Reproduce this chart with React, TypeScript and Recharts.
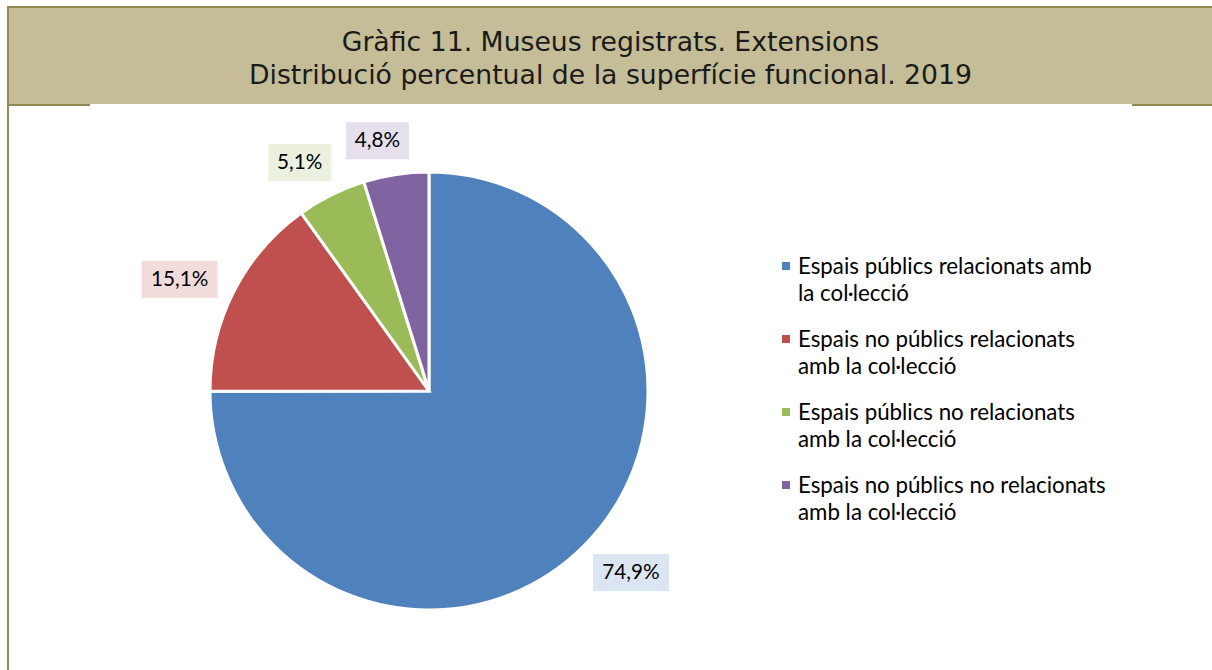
import React from 'react';
import { PieChart, Pie, Cell, Legend } from 'recharts';

const categories = [
  'Espais públics relacionats amb la col·lecció',
  'Espais no públics relacionats amb la col·lecció',
  'Espais públics no relacionats amb la col·lecció',
  'Espais no públics no relacionats amb la col·lecció',
];
// how the legend breaks each name in the original
const legendLines = [
  ['Espais públics relacionats amb', 'la col·lecció'],
  ['Espais no públics relacionats', 'amb la col·lecció'],
  ['Espais públics no relacionats', 'amb la col·lecció'],
  ['Espais no públics no relacionats', 'amb la col·lecció'],
];
const shares = [74.9, 15.1, 5.1, 4.8];
const colors = ['#4F81BD', '#C0504D', '#9BBB59', '#8064A2'];
const labelFills = ['#DCE6F2', '#F2DCDB', '#EBF1DE', '#E6E0EC'];

const data = categories.map((name, i) => ({ name, value: shares[i] }));

const RAD = Math.PI / 180;
const BODY_FONT = 'Lato, "Open Sans", sans-serif';

const renderLabel = (props: any) => {
  const { cx, cy, midAngle, outerRadius, index, value } = props;
  const text = value.toFixed(1).replace('.', ',') + '%';
  const w = 11 + text.length * 13;
  const h = 37;
  // excel nudges the labels a few degrees counter-clockwise
  const a = -(midAngle + 3) * RAD;
  const cos = Math.cos(a);
  const sin = Math.sin(a);
  // keep the box a small gap away from the rim
  const extent = Math.abs(cos) * w / 2 + Math.abs(sin) * h / 2;
  const r = outerRadius + 12 + extent;
  const x = cx + r * cos;
  const y = cy + r * sin;
  return (
    <g key={'lbl' + index}>
      <rect x={x - w / 2} y={y - h / 2} width={w} height={h} fill={labelFills[index]} />
      <text x={x} y={y + 1} textAnchor="middle" dominantBaseline="middle"
        fontFamily={BODY_FONT} fontSize={20.7} fill="#000">{text}</text>
    </g>
  );
};

const renderLegend = () => (
  <div style={{ fontFamily: BODY_FONT, fontSize: 22.3, color: '#000' }}>
    {legendLines.map((lines, i) => (
      <div key={i} style={{ position: 'relative', paddingLeft: 16, marginBottom: 19, lineHeight: '27px' }}>
        <span style={{ position: 'absolute', left: 0, top: 10, width: 8, height: 8, background: colors[i] }} />
        {lines.map((l, j) => <div key={j}>{l}</div>)}
      </div>
    ))}
  </div>
);

const App: React.FC = () => {
  return (
    <div style={{ position: 'absolute', left: 0, top: 0, width: 1212, height: 670, background: '#fff', overflow: 'hidden' }}>
      {/* title band */}
      <div style={{
        position: 'absolute', left: 7, top: 6, width: 1205, height: 98,
        background: '#C4BD97', borderTop: '2px solid #938953', borderLeft: '2px solid #938953',
        boxSizing: 'border-box', display: 'flex', flexDirection: 'column', justifyContent: 'center',
        alignItems: 'center', fontFamily: '"DejaVu Sans", Verdana, sans-serif', fontSize: 26.7,
        lineHeight: '33px', color: '#1a1a1a', paddingTop: 4,
      }}>
        <div>Gràfic 11. Museus registrats. Extensions</div>
        <div>Distribució percentual de la superfície funcional. 2019</div>
      </div>
      <div style={{ position: 'absolute', left: 7, top: 104, width: 83, height: 2, background: '#938953' }} />
      <div style={{ position: 'absolute', left: 1132, top: 104, width: 80, height: 2, background: '#938953' }} />
      <div style={{ position: 'absolute', left: 7, top: 104, width: 2, height: 566, background: '#938953' }} />

      <div style={{ position: 'absolute', left: 0, top: 0 }}>
        <PieChart width={1212} height={670} margin={{ top: 0, right: 0, bottom: 0, left: 0 }}>
          <Pie data={data} dataKey="value" nameKey="name" cx={429} cy={391} outerRadius={219}
            startAngle={90} endAngle={-270} stroke="#fff" strokeWidth={3}
            label={renderLabel} labelLine={false} isAnimationActive={false}>
            {data.map((_, i) => <Cell key={i} fill={colors[i]} />)}
          </Pie>
          <Legend layout="vertical" content={renderLegend}
            wrapperStyle={{ position: 'absolute', left: 782, top: 252, width: 380 }} />
        </PieChart>
      </div>
    </div>
  );
};

export default App;
